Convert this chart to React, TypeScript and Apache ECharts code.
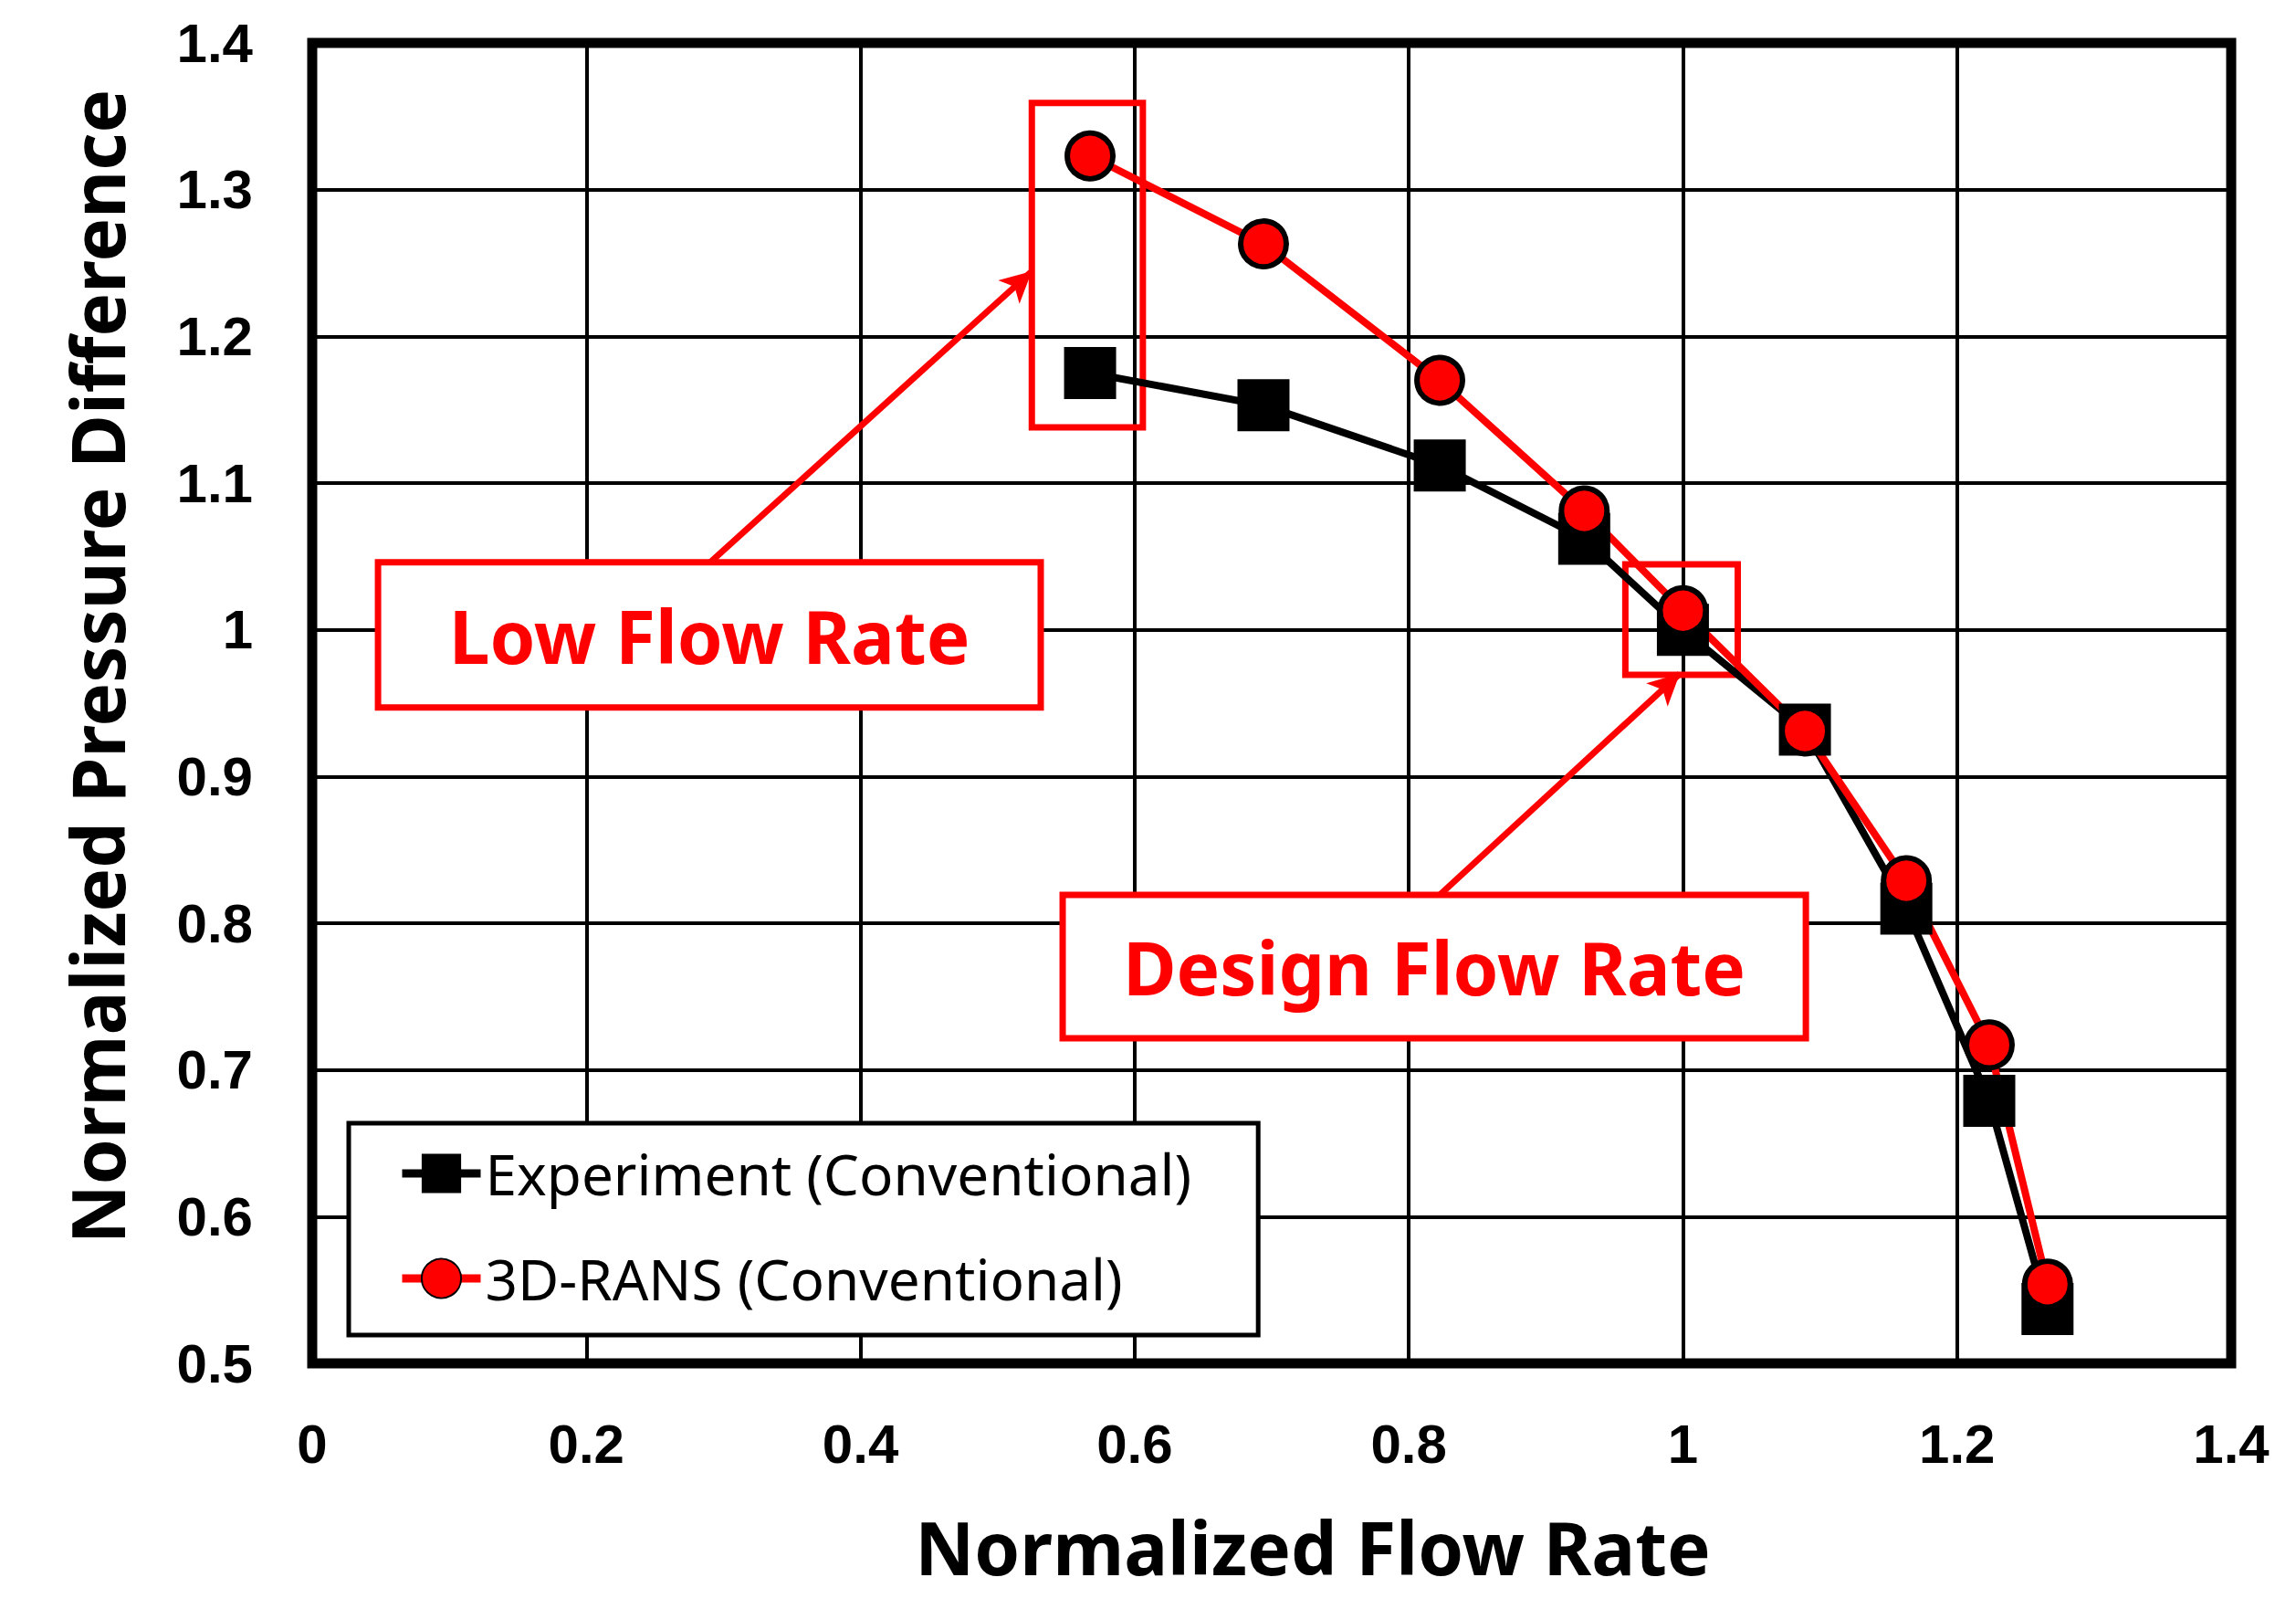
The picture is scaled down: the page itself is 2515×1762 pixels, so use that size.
import React, { useEffect, useRef } from "react";
import * as echarts from "echarts";

// Data
const flowRate = [0.5675, 0.694, 0.8226, 0.928, 1.0, 1.089, 1.163, 1.2235, 1.266];
const pressureExperiment = [1.175, 1.153, 1.112, 1.062, 1.0, 0.932, 0.81, 0.679, 0.537];
const pressureRans = [1.323, 1.263, 1.17, 1.081, 1.013, 0.931, 0.829, 0.717, 0.554];

const seriesNames = ["Experiment (Conventional)", "3D-RANS (Conventional)"];
const xTitle = "Normalized Flow Rate";
const yTitle = "Normalized Pressure Difference";

// Annotation regions (data coordinates)
const lowFlowHighlight = [[0.525, 1.359], [0.606, 1.138]];
const designHighlight = [[0.958, 1.0446], [1.04, 0.9693]];
const lowFlowLabelBox = [[0.048, 1.046], [0.5315, 0.947]];
const designLabelBox = [[0.5475, 0.8193], [1.0897, 0.7216]];
const lowFlowArrow = [[0.2904, 1.046], [0.525, 1.2444]];
const designArrow = [[0.8226, 0.8193], [0.9977, 0.97]];
const annotationTexts = ["Low Flow Rate", "Design Flow Rate"];

const RED = "#ff0000";

export default function App() {
  const ref = useRef<HTMLDivElement>(null);

  useEffect(() => {
    if (!ref.current) return;
    const chart = echarts.init(ref.current, null, { renderer: "svg" });

    const expData = flowRate.map((x, i) => [x, pressureExperiment[i]]);
    const ransData = flowRate.map((x, i) => [x, pressureRans[i]]);

    const boxLabel = {
      show: true,
      position: "inside",
      color: RED,
      fontSize: 80,
      fontWeight: "bold",
      fontFamily: "Noto Sans",
    };

    const option: any = {
      animation: false,
      backgroundColor: "#ffffff",
      grid: {
        left: 342,
        top: 47,
        width: 2102,
        height: 1446,
        show: true,
        backgroundColor: "transparent",
        borderColor: "#000",
        borderWidth: 11,
        z: 10,
      },
      xAxis: {
        type: "value",
        min: 0,
        max: 1.4,
        interval: 0.2,
        name: xTitle,
        nameLocation: "middle",
        nameGap: 160,
        nameTextStyle: {
          fontSize: 80,
          fontWeight: "bold",
          fontFamily: "Noto Sans",
          color: "#000",
          padding: [0, 0, 0, 90],
        },
        axisLine: { show: false },
        axisTick: { show: false },
        axisLabel: {
          margin: 58,
          fontSize: 60,
          fontWeight: "bold",
          fontFamily: "Liberation Sans",
          color: "#000",
        },
        splitLine: { show: true, lineStyle: { color: "#000", width: 4 } },
      },
      yAxis: {
        type: "value",
        min: 0.5,
        max: 1.4,
        interval: 0.1,
        name: yTitle,
        nameLocation: "middle",
        nameGap: 197,
        nameTextStyle: {
          fontSize: 80,
          fontWeight: "bold",
          fontFamily: "Noto Sans",
          color: "#000",
          padding: [0, 0, 0, 80],
        },
        axisLine: { show: false },
        axisTick: { show: false },
        axisLabel: {
          margin: 65,
          fontSize: 60,
          fontWeight: "bold",
          fontFamily: "Liberation Sans",
          color: "#000",
        },
        splitLine: { show: true, lineStyle: { color: "#000", width: 4 } },
      },
      legend: {
        data: seriesNames,
        orient: "vertical",
        left: 382,
        top: 1230,
        padding: [24, 73, 31, 54],
        itemGap: 53,
        itemWidth: 86,
        itemHeight: 54,
        backgroundColor: "#ffffff",
        borderColor: "#000",
        borderWidth: 5,
        lineStyle: { width: 9 },
        textStyle: {
          fontSize: 62,
          fontFamily: "Noto Sans",
          color: "#000",
        },
      },
      series: [
        {
          name: seriesNames[0],
          type: "line",
          data: expData,
          symbol: "rect",
          symbolSize: 57,
          itemStyle: { color: "#000" },
          lineStyle: { color: "#000", width: 8 },
          markArea: {
            silent: true,
            data: [
              [
                { coord: lowFlowHighlight[0], itemStyle: { color: "rgba(0,0,0,0)", borderColor: RED, borderWidth: 7 } },
                { coord: lowFlowHighlight[1] },
              ],
              [
                { coord: designHighlight[0], itemStyle: { color: "rgba(0,0,0,0)", borderColor: RED, borderWidth: 7 } },
                { coord: designHighlight[1] },
              ],
              [
                {
                  name: annotationTexts[0],
                  coord: lowFlowLabelBox[0],
                  itemStyle: { color: "#ffffff", borderColor: RED, borderWidth: 7 },
                  label: boxLabel,
                },
                { coord: lowFlowLabelBox[1] },
              ],
              [
                {
                  name: annotationTexts[1],
                  coord: designLabelBox[0],
                  itemStyle: { color: "#ffffff", borderColor: RED, borderWidth: 7 },
                  label: boxLabel,
                },
                { coord: designLabelBox[1] },
              ],
            ],
            label: { show: false },
          },
          markLine: {
            silent: true,
            symbol: ["none", "arrow"],
            symbolSize: [26, 34],
            label: { show: false },
            lineStyle: { color: RED, width: 7, type: "solid" },
            data: [
              [{ coord: lowFlowArrow[0] }, { coord: lowFlowArrow[1] }],
              [{ coord: designArrow[0] }, { coord: designArrow[1] }],
            ],
          },
        },
        {
          name: seriesNames[1],
          type: "line",
          data: ransData,
          symbol: "circle",
          symbolSize: 50,
          itemStyle: { color: RED, borderColor: "#000", borderWidth: 6 },
          lineStyle: { color: RED, width: 8 },
        },
      ],
    };

    chart.setOption(option);
    return () => chart.dispose();
  }, []);

  return (
    <div
      ref={ref}
      style={{ position: "absolute", left: 0, top: 0, width: 2515, height: 1762 }}
    />
  );
}
